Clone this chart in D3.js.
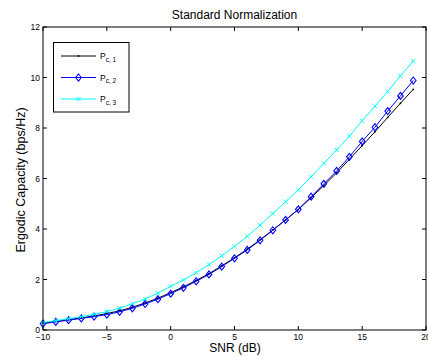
<!DOCTYPE html>
<html><head><meta charset="utf-8">
<script src="https://cdn.jsdelivr.net/npm/d3@7"></script>
<style>body{margin:0;background:#fff;overflow:hidden}svg{display:block}text{font-family:"Liberation Sans",Arial,sans-serif}</style>
</head><body>
<svg id="c" width="428" height="356"></svg>
<script>
const snr = [-10,-9,-8,-7,-6,-5,-4,-3,-2,-1,0,1,2,3,4,5,6,7,8,9,10,11,12,13,14,15,16,17,18,19];
const pc1 = [0.27,0.34,0.41,0.48,0.56,0.65,0.76,0.90,1.07,1.26,1.48,1.71,1.96,2.23,2.54,2.86,3.20,3.57,3.96,4.36,4.77,5.24,5.72,6.22,6.76,7.30,7.85,8.42,8.98,9.53];
const pc2 = [0.25,0.32,0.39,0.46,0.53,0.61,0.72,0.86,1.03,1.22,1.44,1.67,1.93,2.20,2.51,2.84,3.17,3.55,3.95,4.36,4.78,5.28,5.79,6.30,6.86,7.47,8.03,8.67,9.27,9.88];
const pc3 = [0.30,0.37,0.45,0.53,0.62,0.73,0.87,1.04,1.23,1.46,1.73,1.98,2.27,2.59,2.94,3.31,3.71,4.15,4.61,5.08,5.55,6.07,6.60,7.13,7.68,8.29,8.86,9.45,10.07,10.65];
const xTicks = [-10,-5,0,5,10,15,20];
const yTicks = [0,2,4,6,8,10,12];
const seriesNames = ["c, 1","c, 2","c, 3"];
const colors = ["#000000","#0000ff","#00ffff"];
const markers = ["dot","diamond","x"];

const svg = d3.select("#c");
const L=43, R=426, T=27, B=330;
const x = d3.scaleLinear().domain([-10,20]).range([L,R]);
const y = d3.scaleLinear().domain([0,12]).range([B,T]);

const g = svg.append("g");
const tk = 4;
xTicks.forEach(t=>{
  g.append("line").attr("x1",x(t)).attr("x2",x(t)).attr("y1",B).attr("y2",B-tk).attr("stroke","#000");
  g.append("line").attr("x1",x(t)).attr("x2",x(t)).attr("y1",T).attr("y2",T+tk).attr("stroke","#000");
  g.append("text").attr("x",x(t)).attr("y",B+10).attr("text-anchor","middle").attr("font-size",8.5).text(t<0?"\u2212"+(-t):t);
});
yTicks.forEach(t=>{
  g.append("line").attr("x1",L).attr("x2",L+tk).attr("y1",y(t)).attr("y2",y(t)).attr("stroke","#000");
  g.append("line").attr("x1",R).attr("x2",R-tk).attr("y1",y(t)).attr("y2",y(t)).attr("stroke","#000");
  g.append("text").attr("x",L-3).attr("y",y(t)+3).attr("text-anchor","end").attr("font-size",8.5).text(t);
});

const data = [pc1,pc2,pc3];
const line = d3.line().x((d,i)=>x(snr[i])).y(d=>y(d));
function marker(sel,type,cx,cy,color){
  if(type==="dot") sel.append("circle").attr("cx",cx).attr("cy",cy).attr("r",0.9).attr("fill",color);
  else if(type==="diamond") sel.append("path").attr("d",`M${cx},${cy-3.5}L${cx+2.8},${cy}L${cx},${cy+3.5}L${cx-2.8},${cy}Z`).attr("fill","none").attr("stroke",color).attr("stroke-width",1.1);
  else sel.append("path").attr("d",`M${cx-2},${cy-2}L${cx+2},${cy+2}M${cx-2},${cy+2}L${cx+2},${cy-2}`).attr("stroke",color).attr("stroke-width",1);
}
const plot = svg.append("g");
data.forEach((s,k)=>{
  plot.append("path").datum(s).attr("d",line).attr("fill","none").attr("stroke",colors[k]).attr("stroke-width",1);
  s.forEach((v,i)=>marker(plot,markers[k],x(snr[i]),y(v),colors[k]));
});

svg.append("rect").attr("x",L).attr("y",T).attr("width",R-L).attr("height",B-T).attr("fill","none").attr("stroke","#000").attr("stroke-width",1);

const lg = svg.append("g");
lg.append("rect").attr("x",53.5).attr("y",42.5).attr("width",75.5).attr("height",69.5).attr("fill","#fff").attr("stroke","#000").attr("stroke-width",1);
const ly=[56,77.5,99];
seriesNames.forEach((n,k)=>{
  lg.append("line").attr("x1",61).attr("x2",96).attr("y1",ly[k]).attr("y2",ly[k]).attr("stroke",colors[k]);
  marker(lg,markers[k],78.5,ly[k],colors[k]);
  const t = lg.append("text").attr("x",100).attr("y",ly[k]+3).attr("font-size",8.5);
  t.append("tspan").text("P");
  t.append("tspan").attr("font-size",6.5).attr("dy",2.5).text(n);
});

svg.append("text").attr("x",234.5).attr("y",19).attr("text-anchor","middle").attr("font-size",12).text("Standard Normalization");
svg.append("text").attr("x",235).attr("y",352).attr("text-anchor","middle").attr("font-size",12).text("SNR (dB)");
svg.append("text").attr("transform","translate(25,180) rotate(-90)").attr("text-anchor","middle").attr("font-size",12.5).text("Ergodic Capacity (bps/Hz)");
</script>
</body></html>
